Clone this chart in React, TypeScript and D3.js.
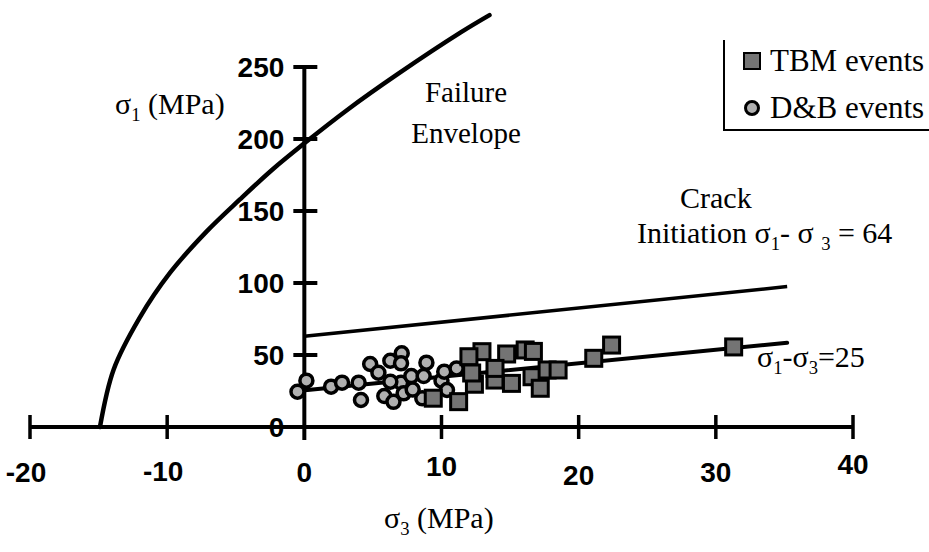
import React, { useRef, useEffect } from "react";
import * as d3 from "d3";

// axis ticks
const xTicks = [-20, -10, 0, 10, 20, 30, 40];
const yTicks = [0, 50, 100, 150, 200, 250];
// small hand-lettered jitter of the x tick labels in the original (px)
const xLabelNudge = [0, -1, 0, -6, 3, 0, -8];

// failure envelope
const envS3 = [-14.9, -13.9, -12.0, -9.8, -7.1, -4.7, -2.3, 0, 3.1, 6.8, 11.4, 13.5];
const envS1 = [0, 40, 76, 107, 136, 158, 179, 197, 220, 245, 274, 286];

// crack initiation line and the lower fitted line
const crackS3 = [0, 35.2];
const crackS1 = [63, 97.5];
const fitS3 = [-0.5, 35.2];
const fitS1 = [25, 58.5];

// D&B events (sigma3, sigma1)
const dbS3 = [0.15, -0.5, 1.95, 2.75, 3.96, 4.13, 4.8, 5.4, 5.83, 6.27, 7.1, 7.05, 7.05, 7.24, 6.27, 7.8, 8.6, 8.7, 8.9, 10.0, 10.2, 10.4, 11.1, 7.9, 6.5];
const dbS1 = [32.2, 24.5, 28, 30.8, 30.8, 18.75, 43.75, 37.7, 21.5, 46, 51.2, 44.2, 30.8, 23.4, 31.5, 35.4, 19.9, 35.4, 44.7, 32.2, 38.4, 25.7, 40.7, 26, 17.5];

// TBM events (sigma3, sigma1)
const tbmS3 = [12.95, 12.0, 14.75, 16.1, 16.7, 13.9, 12.4, 15.1, 16.6, 17.2, 17.7, 18.5, 21.1, 22.4, 31.3, 11.25, 13.9, 9.4, 12.2];
const tbmS1 = [52.3, 48.8, 50.7, 53.5, 52.5, 32.6, 29.7, 30.3, 34.9, 26.9, 39.6, 39.6, 47.7, 56.9, 55.6, 17.6, 40.7, 20, 37.5];

type Part = { t: string; sub?: boolean };

export default function App() {
    const ref = useRef<SVGSVGElement | null>(null);

    useEffect(() => {
        const width = 929;
        const height = 552;
        const serif = "'Liberation Serif', 'Times New Roman', serif";
        const sans = "'Liberation Sans', Arial, sans-serif";

        d3.select(ref.current).selectAll("*").remove();
        const svg = d3.select(ref.current).attr("width", width).attr("height", height);
        svg.append("rect").attr("width", width).attr("height", height).attr("fill", "#fff");

        const x = d3.scaleLinear().domain([-20, 40]).range([30, 853]);
        const y = d3.scaleLinear().domain([0, 250]).range([427, 67]);

        const richText = (px: number, py: number, parts: Part[], size: number) => {
            const t = svg.append("text")
                .attr("x", px).attr("y", py)
                .attr("font-family", serif)
                .attr("font-size", size)
                .attr("fill", "#000");
            let down = false;
            parts.forEach((p) => {
                const ts = t.append("tspan").text(p.t);
                if (p.sub) {
                    ts.attr("font-size", size * 0.62);
                    if (!down) { ts.attr("dy", size * 0.22); down = true; }
                } else if (down) {
                    ts.attr("dy", -size * 0.22);
                    down = false;
                }
            });
            return t;
        };

        // x axis
        svg.append("line")
            .attr("x1", x(-20)).attr("x2", x(40))
            .attr("y1", y(0)).attr("y2", y(0))
            .attr("stroke", "#000").attr("stroke-width", 4);
        svg.selectAll(".xt")
            .data(xTicks.filter((d) => d !== 0))
            .enter().append("line")
            .attr("x1", (d) => x(d)).attr("x2", (d) => x(d))
            .attr("y1", y(0) - 12).attr("y2", y(0) + 12)
            .attr("stroke", "#000").attr("stroke-width", 3.5);
        svg.selectAll(".xl")
            .data(xTicks)
            .enter().append("text")
            .attr("x", (d) => x(d) + (d < 0 ? -4 : 0))
            .attr("y", (_, i) => 482 + xLabelNudge[i])
            .attr("text-anchor", "middle")
            .attr("font-family", sans)
            .attr("font-weight", "bold")
            .attr("font-size", 28)
            .text((d) => String(d));

        // y axis
        svg.append("line")
            .attr("x1", x(0)).attr("x2", x(0))
            .attr("y1", y(250)).attr("y2", y(0) + 13)
            .attr("stroke", "#000").attr("stroke-width", 4);
        svg.selectAll(".yt")
            .data(yTicks.filter((d) => d !== 0))
            .enter().append("line")
            .attr("x1", x(0) - 11).attr("x2", x(0) + 13)
            .attr("y1", (d) => y(d)).attr("y2", (d) => y(d))
            .attr("stroke", "#000").attr("stroke-width", 4);
        svg.selectAll(".yl")
            .data(yTicks)
            .enter().append("text")
            .attr("x", x(0) - 20)
            .attr("y", (d) => y(d) + 10)
            .attr("text-anchor", "end")
            .attr("font-family", sans)
            .attr("font-weight", "bold")
            .attr("font-size", 28)
            .text((d) => String(d));

        // failure envelope
        const env = envS3.map((s3, i) => [s3, envS1[i]] as [number, number]);
        const line = d3.line<[number, number]>()
            .x((d) => x(d[0]))
            .y((d) => y(d[1]))
            .curve(d3.curveCatmullRom.alpha(0.5));
        svg.append("path")
            .datum(env)
            .attr("d", line)
            .attr("fill", "none")
            .attr("stroke", "#000")
            .attr("stroke-width", 4.5)
            .attr("stroke-linecap", "round");

        const straight = d3.line<[number, number]>().x((d) => x(d[0])).y((d) => y(d[1]));
        svg.append("path")
            .datum(crackS3.map((s3, i) => [s3, crackS1[i]] as [number, number]))
            .attr("d", straight)
            .attr("stroke", "#000").attr("stroke-width", 3.5).attr("fill", "none");
        svg.append("path")
            .datum(fitS3.map((s3, i) => [s3, fitS1[i]] as [number, number]))
            .attr("d", straight)
            .attr("stroke", "#000").attr("stroke-width", 4).attr("fill", "none")
            .attr("stroke-linecap", "round");

        // D&B circles
        svg.selectAll(".db")
            .data(dbS3.map((s3, i) => [s3, dbS1[i]]))
            .enter().append("circle")
            .attr("cx", (d) => x(d[0]))
            .attr("cy", (d) => y(d[1]))
            .attr("r", 6.5)
            .attr("fill", "#b0b0b0")
            .attr("stroke", "#000")
            .attr("stroke-width", 3.5);

        // TBM squares
        const sq = 16;
        svg.selectAll(".tbm")
            .data(tbmS3.map((s3, i) => [s3, tbmS1[i]]))
            .enter().append("rect")
            .attr("x", (d) => x(d[0]) - sq / 2)
            .attr("y", (d) => y(d[1]) - sq / 2)
            .attr("width", sq)
            .attr("height", sq)
            .attr("fill", "#747474")
            .attr("stroke", "#000")
            .attr("stroke-width", 3);

        // labels
        richText(115, 114, [{ t: "σ" }, { t: "1", sub: true }, { t: " (MPa)" }], 30);
        richText(384, 528, [{ t: "σ" }, { t: "3", sub: true }, { t: " (MPa)" }], 30);
        svg.append("text").attr("x", 466).attr("y", 102).attr("text-anchor", "middle")
            .attr("font-family", serif).attr("font-size", 29).text("Failure");
        svg.append("text").attr("x", 466).attr("y", 143).attr("text-anchor", "middle")
            .attr("font-family", serif).attr("font-size", 29).text("Envelope");
        svg.append("text").attr("x", 680).attr("y", 208)
            .attr("font-family", serif).attr("font-size", 30).text("Crack");
        richText(637, 243, [
            { t: "Initiation σ" }, { t: "1", sub: true }, { t: "- σ " },
            { t: "3", sub: true }, { t: " = 64" },
        ], 30);
        richText(757, 367, [
            { t: "σ" }, { t: "1", sub: true }, { t: "-σ" }, { t: "3", sub: true }, { t: "=25" },
        ], 30);

        // legend
        const lg = svg.append("g");
        lg.append("path")
            .attr("d", `M724,40 V130 H929`)
            .attr("fill", "none").attr("stroke", "#000").attr("stroke-width", 2);
        lg.append("rect")
            .attr("x", 744).attr("y", 53).attr("width", 16).attr("height", 16)
            .attr("fill", "#747474").attr("stroke", "#000").attr("stroke-width", 2);
        lg.append("circle")
            .attr("cx", 752).attr("cy", 108).attr("r", 6.5)
            .attr("fill", "#b0b0b0").attr("stroke", "#000").attr("stroke-width", 3);
        lg.append("text").attr("x", 770).attr("y", 71)
            .attr("font-family", serif).attr("font-size", 31).text("TBM events");
        lg.append("text").attr("x", 770).attr("y", 118)
            .attr("font-family", serif).attr("font-size", 31).text("D&B events");
    }, []);

    return (
        <div style={{ position: "absolute", left: 0, top: 0 }}>
            <svg ref={ref}></svg>
        </div>
    );
}
